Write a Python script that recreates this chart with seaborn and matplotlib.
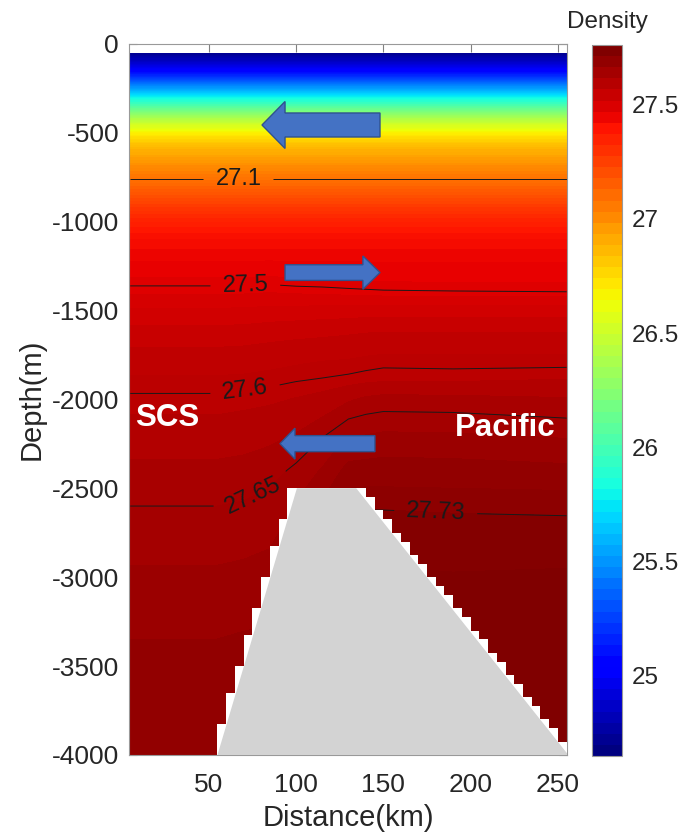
import numpy as np
import matplotlib
matplotlib.use("Agg")
from matplotlib import pyplot as plt
from matplotlib.colors import ListedColormap, Normalize
from matplotlib.patches import FancyArrow
import seaborn as sns

# model stations along the section (km)
stations = [5, 55, 70, 85, 100, 115, 130, 140, 150, 190, 255]

# upper layer: same density profile at every station
depth_upper = [-50, -100, -150, -200, -250, -300, -350, -400, -450, -500,
               -550, -600, -700, -800, -900, -1000, -1100, -1200]
rho_upper = [24.70, 24.84, 25.02, 25.26, 25.52, 25.78, 26.04, 26.30, 26.52, 26.68,
             26.81, 26.90, 27.03, 27.15, 27.27, 27.37, 27.43, 27.465]

# deep layer: one profile per station
depth_deep = [-1300, -1400, -1500, -1600, -1700, -1800, -1900, -2000, -2100, -2200,
              -2300, -2400, -2500, -2600, -2700, -2800, -3000, -3500, -4000]
rho_x5 = [27.487, 27.508, 27.533, 27.553, 27.569, 27.582, 27.594, 27.603, 27.611, 27.619,
          27.627, 27.635, 27.643, 27.650, 27.656, 27.662, 27.674, 27.697, 27.710]
rho_x55 = [27.487, 27.508, 27.533, 27.553, 27.569, 27.582, 27.594, 27.603, 27.611, 27.619,
           27.627, 27.635, 27.643, 27.650, 27.656, 27.662, 27.674, 27.697, 27.710]
rho_x70 = [27.487, 27.508, 27.534, 27.554, 27.570, 27.583, 27.595, 27.605, 27.613, 27.621,
           27.629, 27.637, 27.645, 27.652, 27.658, 27.664, 27.676, 27.699, 27.712]
rho_x85 = [27.488, 27.510, 27.536, 27.557, 27.573, 27.586, 27.597, 27.607, 27.616, 27.625,
           27.633, 27.641, 27.650, 27.657, 27.663, 27.668, 27.678, 27.700, 27.712]
rho_x100 = [27.486, 27.508, 27.537, 27.559, 27.576, 27.589, 27.600, 27.611, 27.621, 27.631,
            27.643, 27.655, 27.663, 27.670, 27.676, 27.681, 27.690, 27.700, 27.710]
rho_x115 = [27.485, 27.507, 27.538, 27.561, 27.578, 27.592, 27.602, 27.616, 27.630, 27.647,
            27.660, 27.672, 27.682, 27.690, 27.700, 27.705, 27.710, 27.720, 27.720]
rho_x130 = [27.484, 27.505, 27.539, 27.563, 27.581, 27.593, 27.605, 27.627, 27.648, 27.667,
            27.683, 27.697, 27.710, 27.728, 27.736, 27.742, 27.750, 27.755, 27.760]
rho_x140 = [27.483, 27.504, 27.540, 27.565, 27.583, 27.595, 27.608, 27.634, 27.653, 27.670,
            27.685, 27.698, 27.711, 27.728, 27.737, 27.744, 27.751, 27.756, 27.760]
rho_x150 = [27.482, 27.503, 27.540, 27.566, 27.584, 27.597, 27.610, 27.637, 27.656, 27.673,
            27.687, 27.699, 27.711, 27.728, 27.737, 27.745, 27.752, 27.757, 27.760]
rho_x190 = [27.481, 27.502, 27.540, 27.566, 27.584, 27.596, 27.610, 27.636, 27.655, 27.672,
            27.686, 27.698, 27.710, 27.726, 27.736, 27.744, 27.751, 27.757, 27.760]
rho_x255 = [27.481, 27.501, 27.540, 27.566, 27.584, 27.597, 27.612, 27.632, 27.649, 27.667,
            27.682, 27.695, 27.708, 27.724, 27.735, 27.744, 27.752, 27.757, 27.760]

# ridge outline (km, m)
ridge_x = [55, 100.5, 134.5, 256]
ridge_z = [-4000, -2500, -2500, -4000]

contour_levels = [27.1, 27.5, 27.6, 27.65, 27.73]
label_pos = [(67, -768), (71, -1368), (71, -1959), (76, -2552), (180, -2637)]
cbar_ticks = [25, 25.5, 26, 26.5, 27, 27.5]
x_ticks = [50, 100, 150, 200, 250]
y_ticks = [0, -500, -1000, -1500, -2000, -2500, -3000, -3500, -4000]

sns.set_theme(style="ticks")
plt.rcParams["font.family"] = ["Liberation Sans", "DejaVu Sans"]
plt.rcParams["axes.unicode_minus"] = False

# build the section
deep = np.column_stack([rho_x5, rho_x55, rho_x70, rho_x85, rho_x100, rho_x115,
                        rho_x130, rho_x140, rho_x150, rho_x190, rho_x255])
upper = np.tile(np.array(rho_upper)[:, None], (1, len(stations)))
rho = np.vstack([upper, deep])
X, Z = np.meshgrid(stations, depth_upper + depth_deep)

jet64 = ListedColormap(plt.get_cmap("jet")(np.linspace(0, 1, 64)))
norm = Normalize(vmin=24.65, vmax=27.76)

fig = plt.figure(figsize=(6.8, 8.36), dpi=100)
ax = fig.add_axes([0.1904, 0.0969, 0.6434, 0.8508])

ax.contourf(X, Z, rho, levels=np.arange(24.63, 27.79, 0.02), cmap="jet", norm=norm, zorder=1)
cs = ax.contour(X, Z, rho, levels=contour_levels, colors="k", linewidths=0.7, zorder=2)
ax.clabel(cs, fmt=lambda v: f"{v:g}", fontsize=17, manual=label_pos, inline=True, inline_spacing=12)

# masked model cells around the ridge (5 km x 25 m grid)
xn = np.arange(5, 256, 5)
zn = np.arange(-4000, -2474, 25)
surf = np.interp(xn, ridge_x, ridge_z)
below = zn[:, None] < surf[None, :] - 1e-6
cells = below[:-1, :-1] | below[1:, :-1] | below[:-1, 1:] | below[1:, 1:]
ax.pcolormesh(xn, zn, np.ma.masked_where(~cells, np.ones(cells.shape)),
              cmap=ListedColormap(["white"]), shading="flat", antialiased=False,
              edgecolors="none", zorder=3)
ax.fill(ridge_x, ridge_z, color="#d3d3d3", lw=0, zorder=4)

# flow arrows
arrow_style = dict(length_includes_head=True, fc="#4472C4", ec="#2F528F", lw=1, zorder=5)
ax.add_patch(FancyArrow(148.1, -457, -67.6, 0, width=135, head_width=264, head_length=13.2, **arrow_style))
ax.add_patch(FancyArrow(93.7, -1287, 54.4, 0, width=88, head_width=187, head_length=9.8, **arrow_style))
ax.add_patch(FancyArrow(145.2, -2249, -54.4, 0, width=90, head_width=174, head_length=8.6, **arrow_style))

ax.text(7.7, -2105, "SCS", color="white", fontsize=22.5, fontweight="bold", ha="left", va="center", zorder=6)
ax.text(191, -2161, "Pacific", color="white", fontsize=22.5, fontweight="bold", ha="left", va="center", zorder=6)

ax.set_xlim(4.6, 255.2)
ax.set_ylim(-4000, 0)
ax.set_xticks(x_ticks)
ax.set_yticks(y_ticks)
ax.tick_params(direction="in", length=6, width=0.8, color="#808080", top=True, right=True,
               labelsize=19, labelcolor="#262626")
ax.tick_params(axis="x", pad=13)
ax.tick_params(axis="y", pad=7.5)
for sp in ax.spines.values():
    sp.set_color("#999999")
    sp.set_linewidth(0.8)

ax.set_xlabel("Distance(km)", fontsize=21, color="#262626")
ax.set_ylabel("Depth(m)", fontsize=21, color="#262626")
ax.xaxis.set_label_coords(0.5, -0.0886)
ax.xaxis.label.set_verticalalignment("center")
ax.yaxis.set_label_coords(-0.224, 0.5)
ax.yaxis.label.set_verticalalignment("center")

cax = fig.add_axes([0.8706, 0.0957, 0.0441, 0.8505])
sm = plt.cm.ScalarMappable(norm=norm, cmap=jet64)
cb = fig.colorbar(sm, cax=cax, ticks=cbar_ticks, format="%g")
cb.ax.tick_params(direction="in", length=5, width=0.8, color="#404040", labelsize=17.5,
                  labelcolor="#262626", pad=7)
cb.outline.set_edgecolor("#999999")
cb.outline.set_linewidth(0.8)
fig.text(607 / 680, 1 - 22 / 836, "Density", ha="center", va="center", fontsize=17.5, color="#262626")

plt.savefig("out.png", dpi=100)
